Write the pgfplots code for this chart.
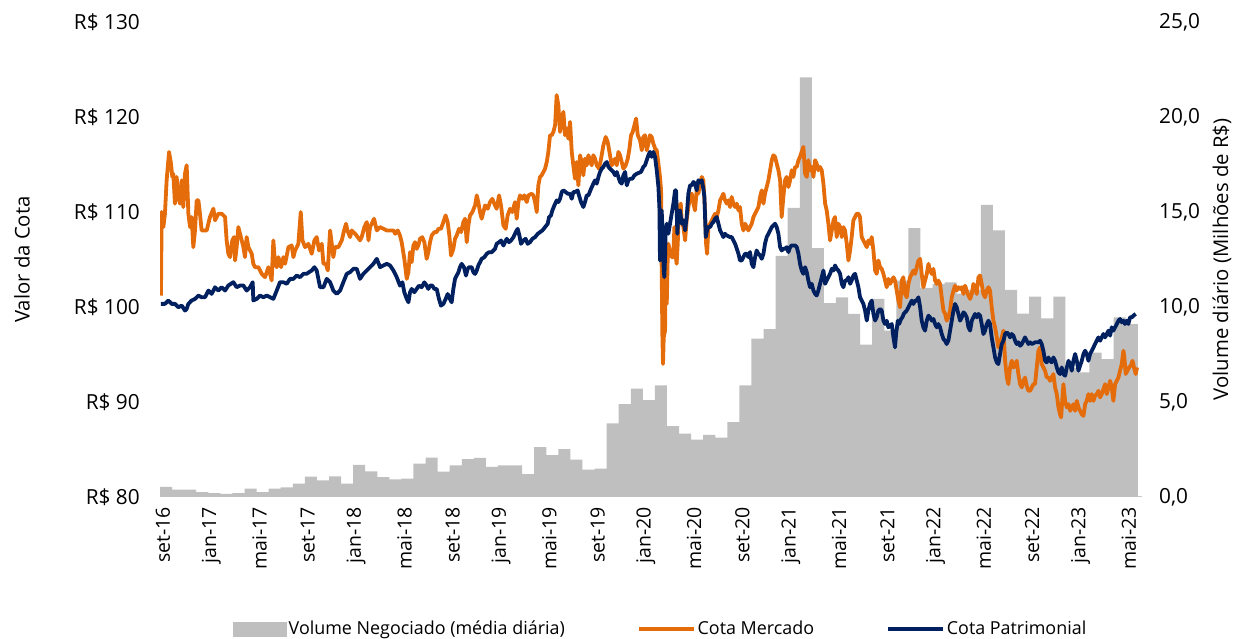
\documentclass[border=0pt]{standalone}
\usepackage{pgfplots}
\pgfplotsset{compat=1.18}
\usepackage{fontspec}
\setmainfont{Open Sans}
\definecolor{cmerc}{HTML}{E46C0A}
\definecolor{cpat}{HTML}{002060}
\definecolor{cvol}{HTML}{BFBFBF}
\newcommand{\lblfont}{\fontsize{20.8}{23}\selectfont}
\newcommand{\ylblfont}{\fontsize{20.3}{23}\selectfont}
\newcommand{\xfont}{\fontsize{19.5}{22}\selectfont}
\newcommand{\legfont}{\fontsize{17.9}{20}\selectfont}

\pgfplotstableread{
m vol
0 0.53
1 0.39
2 0.39
3 0.26
4 0.21
5 0.17
6 0.21
7 0.44
8 0.26
9 0.44
10 0.51
11 0.70
12 1.07
13 0.88
14 1.09
15 0.70
16 1.69
17 1.35
18 1.04
19 0.93
20 0.97
21 1.76
22 2.07
23 1.33
24 1.67
25 1.99
26 2.06
27 1.58
28 1.67
29 1.67
30 1.21
31 2.62
32 2.20
33 2.52
34 1.97
35 1.44
36 1.49
37 3.87
38 4.89
39 5.70
40 5.10
41 5.87
42 3.73
43 3.34
44 3.02
45 3.27
46 3.13
47 3.94
48 5.87
49 8.33
50 8.83
51 12.69
52 15.22
53 22.08
54 13.10
55 10.20
56 10.51
57 9.64
58 8.02
59 10.43
60 8.76
61 11.39
62 14.15
63 11.00
64 11.20
65 11.30
66 10.70
67 10.90
68 15.38
69 14.03
70 10.90
71 9.65
72 10.55
73 9.40
74 10.55
75 6.80
76 6.56
77 7.60
78 7.26
79 9.46
80 9.10
81 9.10
}\voltable

\pgfplotstableread{
m v
0.08 101.20
0.14 110.00
0.28 108.41
0.41 109.82
0.55 113.34
0.75 116.32
0.91 115.09
1.02 113.69
1.10 114.04
1.24 110.87
1.38 113.69
1.52 111.58
1.66 110.87
1.80 113.34
1.93 110.52
2.07 114.04
2.21 114.92
2.35 109.82
2.49 108.41
2.62 109.47
2.76 106.30
2.90 108.06
3.04 111.23
3.18 111.23
3.31 109.82
3.45 108.06
3.73 108.06
3.87 108.06
4.14 109.47
4.42 110.35
4.56 109.12
4.83 109.82
5.11 109.82
5.39 109.47
5.52 107.01
5.66 105.60
5.80 105.25
5.99 107.01
6.13 107.36
6.22 104.90
6.35 106.30
6.49 108.41
6.63 107.71
6.77 107.01
6.91 106.30
7.04 105.25
7.18 107.36
7.32 106.30
7.60 105.60
7.73 104.55
7.87 104.19
8.15 104.19
8.43 103.49
8.70 103.14
8.98 104.19
9.12 103.49
9.25 102.79
9.39 107.01
9.53 104.55
9.67 104.19
9.81 105.25
10.03 104.19
10.22 105.25
10.36 104.55
10.64 106.30
10.91 106.48
11.05 105.25
11.19 105.95
11.46 106.65
11.66 110.00
11.80 107.01
12.02 106.30
12.29 106.65
12.57 105.60
12.79 107.01
12.98 107.36
13.18 105.95
13.40 106.65
13.54 104.55
13.73 104.55
13.90 103.84
14.09 108.06
14.23 106.65
14.36 105.25
14.50 106.30
14.78 106.30
15.06 107.01
15.25 108.06
15.41 108.76
15.52 108.06
15.75 107.36
15.88 108.06
16.16 107.71
16.38 107.36
16.57 107.01
16.71 107.36
16.93 108.41
17.13 108.94
17.27 107.01
17.40 108.41
17.54 108.76
17.73 109.29
17.96 108.06
18.23 108.41
18.51 108.24
18.78 108.06
19.06 108.06
19.34 108.06
19.48 107.71
19.70 108.06
19.88 107.53
20.02 106.82
20.24 105.07
20.44 102.96
20.58 103.66
20.71 105.77
20.85 104.71
20.99 106.47
21.13 106.82
21.26 106.12
21.40 106.47
21.54 107.18
21.73 107.35
21.90 106.82
22.09 105.07
22.23 105.77
22.37 106.82
22.51 107.53
22.73 107.88
22.92 107.88
23.06 108.23
23.28 108.23
23.47 108.93
23.66 109.64
23.83 108.93
23.97 107.53
24.11 105.42
24.30 106.12
24.44 107.18
24.58 107.53
24.77 108.23
24.94 107.88
25.13 108.93
25.27 109.29
25.41 106.82
25.55 108.58
25.68 109.64
25.88 109.99
26.10 110.69
26.24 111.75
26.37 111.04
26.51 109.99
26.65 109.29
26.79 109.99
26.93 110.69
27.15 110.34
27.34 111.04
27.53 111.39
27.75 110.69
27.89 110.34
28.09 111.75
28.25 110.69
28.45 108.58
28.64 108.23
28.80 109.64
29.00 110.34
29.19 109.99
29.41 111.04
29.55 109.29
29.69 111.04
29.82 111.75
30.02 111.39
30.18 111.75
30.38 111.04
30.52 111.75
30.79 111.92
30.93 111.75
31.07 111.04
31.21 109.99
31.34 112.80
31.48 113.68
31.62 113.86
31.76 114.21
31.90 114.56
32.04 115.26
32.17 116.32
32.31 118.08
32.45 118.08
32.59 118.43
32.73 119.13
32.86 122.30
33.00 121.24
33.14 118.43
33.28 119.83
33.42 120.54
33.55 118.08
33.69 118.78
33.83 117.72
33.97 119.48
34.11 116.32
34.24 114.91
34.38 113.50
34.52 115.26
34.66 112.80
34.80 115.97
34.93 115.26
35.07 113.86
35.21 115.61
35.35 114.91
35.49 115.97
35.76 114.91
35.90 115.97
36.04 115.61
36.18 114.91
36.37 114.56
36.54 115.61
36.73 117.02
36.92 117.90
37.09 117.37
37.28 115.97
37.42 114.91
37.56 115.26
37.70 115.61
37.84 114.91
37.97 116.32
38.11 115.97
38.25 115.26
38.39 114.56
38.58 114.91
38.75 115.61
38.89 116.67
39.02 118.08
39.16 118.43
39.30 119.13
39.44 119.83
39.58 118.08
39.77 117.56
39.91 116.50
40.04 117.91
40.18 118.08
40.32 116.50
40.46 117.20
40.59 118.08
40.73 117.91
40.87 117.20
41.01 116.68
41.15 116.50
41.29 115.09
41.42 113.69
41.51 112.28
41.56 103.84
41.62 96.81
41.67 94.00
41.73 96.81
41.84 97.51
41.89 103.84
41.98 100.33
42.06 105.25
42.11 106.66
42.25 105.95
42.39 105.25
42.53 105.25
42.61 108.41
42.67 105.95
42.80 104.55
42.89 106.66
43.00 110.52
43.14 110.88
43.22 109.12
43.36 108.41
43.50 107.01
43.63 109.12
43.77 110.52
43.91 111.58
44.05 111.93
44.19 110.88
44.32 110.17
44.46 112.28
44.60 111.93
44.74 112.98
44.88 113.69
45.01 113.34
45.15 110.17
45.24 106.66
45.32 105.60
45.43 108.41
45.57 108.77
45.71 109.12
45.84 109.47
45.98 109.82
46.12 109.47
46.26 110.17
46.40 111.23
46.54 111.58
46.67 111.93
46.81 111.23
46.95 110.88
47.09 111.23
47.22 110.52
47.36 111.58
47.50 110.88
47.64 110.52
47.78 110.88
47.92 110.17
48.05 110.52
48.19 108.77
48.33 108.06
48.47 108.77
48.61 108.41
48.74 108.06
48.88 108.41
49.02 108.77
49.16 109.47
49.30 109.82
49.43 110.17
49.57 110.52
49.71 111.58
49.85 112.28
49.99 110.88
50.12 111.93
50.26 112.63
50.40 113.34
50.54 114.39
50.68 115.45
50.81 115.97
50.95 115.80
51.09 115.09
51.23 114.39
51.37 113.34
51.50 109.47
51.64 111.58
51.78 113.34
51.92 113.69
52.06 112.63
52.20 113.34
52.33 114.39
52.47 113.69
52.61 114.74
52.75 114.74
52.89 115.45
53.02 115.80
53.16 116.33
53.30 116.85
53.44 114.04
53.58 113.69
53.71 115.45
53.85 114.39
53.99 114.74
54.13 113.69
54.27 115.45
54.40 115.09
54.54 114.39
54.68 114.74
54.82 114.39
54.96 112.98
55.10 110.88
55.23 110.17
55.37 108.77
55.51 107.01
55.65 108.06
55.79 109.12
55.92 109.47
56.06 107.36
56.20 108.77
56.34 108.41
56.48 107.36
56.61 108.41
56.75 108.06
56.89 106.66
57.03 104.90
57.17 105.95
57.30 107.36
57.44 109.12
57.58 109.47
57.72 109.82
57.86 109.82
57.99 109.47
58.13 107.36
58.27 107.01
58.41 106.66
58.55 106.30
58.68 107.01
58.82 106.66
58.96 107.36
59.10 105.95
59.24 103.84
59.37 103.49
59.51 104.90
59.65 104.19
59.79 104.01
59.93 103.48
60.07 102.78
60.20 102.08
60.34 102.96
60.48 102.43
60.62 102.78
60.76 103.13
60.89 102.78
61.03 101.73
61.17 100.67
61.31 99.97
61.45 102.78
61.58 103.13
61.72 101.37
61.86 101.02
62.00 102.43
62.14 103.13
62.28 103.48
62.41 103.84
62.55 103.48
62.69 104.19
62.83 104.89
62.97 105.07
63.10 103.48
63.24 102.08
63.38 102.78
63.52 103.48
63.66 104.54
63.79 103.84
63.93 103.48
64.07 104.01
64.21 102.78
64.35 102.43
64.48 102.78
64.62 102.43
64.76 101.02
64.90 99.62
65.04 99.27
65.17 98.56
65.31 98.91
65.45 99.62
65.59 101.02
65.73 101.73
65.86 102.25
66.00 101.73
66.14 102.08
66.28 101.90
66.42 102.08
66.56 101.37
66.69 102.25
66.83 101.73
66.97 101.20
67.11 100.85
67.25 101.37
67.38 102.43
67.52 102.08
67.66 101.37
67.80 103.13
67.94 103.31
68.07 102.43
68.21 101.37
68.35 101.02
68.49 101.73
68.63 102.08
68.76 101.73
68.90 99.97
69.04 98.56
69.18 97.86
69.32 96.80
69.45 95.75
69.59 96.10
69.73 96.80
69.87 97.51
70.01 94.34
70.15 92.58
70.28 91.88
70.42 93.64
70.56 94.34
70.70 93.64
70.84 93.82
70.97 94.34
71.11 92.94
71.25 91.88
71.39 91.53
71.53 92.23
71.66 92.58
71.80 91.71
71.94 91.18
72.08 91.18
72.22 91.53
72.35 91.88
72.49 91.88
72.63 93.64
72.77 95.40
72.91 95.75
73.04 93.99
73.18 93.64
73.32 93.29
73.46 92.58
73.60 92.58
73.73 92.23
73.87 92.58
74.01 92.94
74.15 91.53
74.29 90.83
74.43 89.42
74.56 88.72
74.65 88.37
74.76 90.48
74.84 91.88
74.98 90.12
75.12 89.42
75.26 89.77
75.40 89.07
75.53 89.42
75.67 89.77
75.81 89.07
75.95 90.12
76.09 89.42
76.22 89.07
76.36 88.72
76.50 88.54
76.64 89.77
76.77 90.12
76.91 90.83
77.05 90.12
77.19 90.83
77.33 90.12
77.46 90.65
77.60 90.83
77.74 91.18
77.88 90.48
78.02 90.83
78.15 91.35
78.29 91.88
78.43 90.83
78.57 91.53
78.71 92.23
78.84 91.53
78.98 90.12
79.12 91.88
79.26 92.23
79.40 92.58
79.53 93.29
79.67 93.99
79.81 95.40
79.89 94.69
80.00 92.94
80.14 93.29
80.28 93.64
80.42 93.82
80.56 94.34
80.69 93.64
80.83 92.94
80.94 93.64
}\merctable

\pgfplotstableread{
m v
0.08 100.33
0.41 100.33
0.69 100.68
0.97 100.33
1.24 100.33
1.52 99.97
1.80 100.15
2.07 99.62
2.21 99.80
2.35 100.33
2.62 100.68
2.90 100.85
3.18 101.20
3.45 101.03
3.73 101.03
4.01 101.73
4.28 101.38
4.56 102.08
4.83 101.73
5.11 102.08
5.39 101.73
5.66 102.26
6.08 102.61
6.35 102.08
6.63 102.26
6.91 102.26
7.18 101.73
7.46 102.08
7.68 102.61
7.73 100.68
8.01 100.85
8.29 101.20
8.56 101.03
8.84 101.20
9.12 101.03
9.39 100.85
9.67 101.73
9.94 102.61
10.22 102.61
10.50 102.44
10.77 102.96
11.05 102.96
11.33 103.31
11.60 103.14
11.88 103.49
12.15 103.49
12.35 103.67
12.57 103.84
12.79 104.19
12.98 103.84
13.26 102.08
13.54 102.08
13.81 102.96
14.09 102.61
14.36 101.73
14.64 101.38
14.92 101.73
15.19 102.61
15.47 103.49
15.75 103.67
16.02 104.02
16.30 104.02
16.57 102.96
16.85 103.49
17.13 103.84
17.40 104.19
17.68 104.55
17.96 105.07
18.23 104.19
18.51 104.37
18.78 104.55
19.06 104.37
19.34 103.84
19.61 103.14
19.88 102.25
20.08 102.60
20.24 101.55
20.44 100.85
20.58 100.49
20.71 101.55
20.85 101.90
21.07 101.55
21.26 101.90
21.46 102.25
21.68 102.08
21.90 102.60
22.09 102.25
22.23 101.90
22.37 102.25
22.56 102.25
22.73 101.90
22.92 101.90
23.11 100.85
23.28 100.14
23.47 100.32
23.67 100.85
23.83 101.37
24.02 100.85
24.16 100.49
24.30 101.90
24.44 102.96
24.58 103.31
24.72 103.66
24.85 104.19
24.99 104.54
25.18 104.19
25.35 103.31
25.49 104.01
25.60 104.19
25.82 104.19
25.96 103.66
26.10 103.48
26.24 103.84
26.37 104.36
26.51 104.71
26.65 105.07
26.87 105.24
27.06 105.59
27.26 105.77
27.48 105.77
27.75 106.12
27.89 106.65
28.09 106.82
28.25 107.00
28.45 106.47
28.58 106.82
28.72 107.18
28.91 106.82
29.08 107.00
29.28 107.35
29.47 107.88
29.63 108.23
29.77 107.53
29.91 106.65
30.10 107.00
30.29 107.18
30.46 106.65
30.65 106.82
30.85 107.18
31.07 107.35
31.29 107.70
31.48 107.88
31.68 108.06
31.90 108.41
32.12 108.76
32.23 109.46
32.39 109.64
32.50 110.16
32.67 110.69
32.86 111.22
33.00 111.04
33.14 111.39
33.28 112.10
33.42 112.27
33.61 112.10
33.78 111.92
33.97 111.92
34.11 111.39
34.24 112.10
34.38 112.10
34.60 112.27
34.71 111.75
34.88 111.04
35.07 110.52
35.21 111.04
35.35 111.75
35.49 111.75
35.71 112.45
35.90 112.98
36.04 113.33
36.18 112.98
36.32 113.68
36.45 114.21
36.59 114.56
36.73 114.74
36.87 115.09
37.01 115.26
37.15 114.74
37.28 114.56
37.42 114.38
37.56 114.21
37.70 113.86
37.84 114.21
37.97 113.68
38.11 113.15
38.25 112.98
38.39 113.86
38.53 114.21
38.67 112.80
38.80 113.33
38.94 113.50
39.13 113.50
39.30 113.86
39.50 114.03
39.85 114.22
40.04 114.74
40.18 114.92
40.32 115.45
40.46 115.97
40.59 116.33
40.73 115.80
40.87 116.33
41.01 115.80
41.15 114.39
41.29 112.63
41.37 110.52
41.42 104.90
41.51 105.25
41.56 110.17
41.65 107.36
41.73 103.84
41.78 103.14
41.84 105.25
41.89 108.06
41.98 108.77
42.11 107.71
42.25 108.77
42.39 109.82
42.53 110.88
42.67 112.28
42.75 112.28
42.86 107.71
42.94 109.82
43.08 110.17
43.22 108.77
43.36 109.12
43.50 108.06
43.63 109.47
43.77 111.93
43.91 112.81
44.05 112.81
44.19 113.16
44.32 112.98
44.46 112.28
44.60 113.34
44.74 113.16
44.88 113.34
45.01 112.46
45.10 111.58
45.21 107.36
45.32 108.06
45.43 108.41
45.57 108.41
45.71 108.77
45.84 108.94
45.98 109.29
46.12 109.47
46.26 108.77
46.40 108.06
46.54 107.71
46.67 107.36
46.81 107.71
46.95 107.53
47.22 107.36
47.36 107.36
47.50 107.01
47.64 106.66
47.78 106.13
47.92 105.60
48.05 104.90
48.19 104.90
48.33 105.25
48.47 105.60
48.61 105.60
48.74 105.25
48.88 105.78
49.02 104.55
49.16 104.19
49.30 105.25
49.43 105.95
49.57 105.60
49.71 105.43
49.85 105.07
49.99 105.60
50.12 106.66
50.26 107.36
50.40 107.71
50.54 108.06
50.68 108.41
50.81 108.59
50.95 108.77
51.09 108.41
51.23 107.71
51.37 106.30
51.50 105.95
51.64 106.13
51.78 106.13
51.92 106.30
52.06 105.78
52.20 106.30
52.33 106.48
52.61 106.48
52.75 106.30
52.89 105.60
53.02 104.55
53.16 103.84
53.30 103.49
53.44 104.19
53.58 103.67
53.71 102.79
53.85 102.08
53.99 102.44
54.13 101.73
54.27 101.38
54.40 101.21
54.54 101.73
54.68 102.44
54.82 103.14
54.96 103.84
55.10 102.44
55.23 102.79
55.37 103.14
55.51 103.49
55.65 104.02
55.79 103.84
55.92 104.37
56.06 104.02
56.20 103.84
56.34 103.49
56.48 102.44
56.61 102.08
56.75 102.79
56.89 102.79
57.03 103.14
57.17 102.44
57.30 102.79
57.44 103.31
57.58 103.49
57.72 102.79
57.86 102.08
57.99 101.03
58.13 100.68
58.27 100.33
58.41 99.62
58.55 98.57
58.68 99.62
58.82 100.33
58.96 100.68
59.10 99.27
59.24 98.57
59.37 98.92
59.51 99.62
59.65 99.79
59.79 99.62
59.93 98.56
60.07 98.21
60.20 98.56
60.34 97.86
60.48 98.03
60.62 98.21
60.76 96.80
60.89 95.75
60.98 97.16
61.12 98.56
61.23 98.21
61.39 98.74
61.50 98.91
61.61 99.27
61.72 99.44
61.86 99.62
62.00 99.97
62.14 100.32
62.28 100.67
62.41 100.32
62.55 100.67
62.69 100.67
62.83 101.02
62.97 99.97
63.10 98.56
63.24 97.86
63.38 97.51
63.52 98.56
63.66 99.09
63.79 98.91
63.93 98.56
64.07 98.74
64.21 98.21
64.35 97.86
64.48 98.21
64.62 97.86
64.76 97.16
64.90 96.63
65.04 96.45
65.17 96.10
65.31 96.45
65.45 97.51
65.59 98.56
65.73 99.62
65.86 100.32
66.00 99.97
66.14 99.27
66.28 98.56
66.42 98.91
66.56 99.44
66.69 99.27
66.83 98.91
66.97 97.86
67.11 97.51
67.25 98.56
67.38 98.91
67.52 99.27
67.66 98.91
67.80 99.27
67.94 99.09
68.07 98.21
68.21 97.16
68.35 97.51
68.49 98.21
68.63 98.56
68.76 98.21
68.90 96.80
69.04 95.75
69.18 94.69
69.32 94.17
69.45 93.99
69.59 95.05
69.73 96.10
69.87 96.45
70.01 97.16
70.15 97.33
70.28 97.16
70.42 96.80
70.56 97.16
70.70 96.98
70.84 96.45
70.97 96.10
71.11 96.28
71.25 95.92
71.39 96.10
71.53 96.45
71.66 96.80
71.80 96.45
71.94 96.10
72.08 96.28
72.22 96.10
72.49 96.28
72.77 96.28
72.91 96.45
73.04 96.10
73.18 95.40
73.32 94.34
73.46 94.17
73.60 94.69
73.73 94.34
73.87 94.17
74.01 94.69
74.15 94.34
74.29 93.64
74.43 93.11
74.56 92.94
74.70 93.64
74.84 92.94
74.98 92.76
75.12 93.64
75.26 94.34
75.40 93.99
75.53 93.29
75.67 94.34
75.81 95.05
75.95 94.34
76.09 93.29
76.22 93.82
76.36 94.34
76.50 95.05
76.64 95.40
76.77 95.05
76.91 94.34
77.05 95.05
77.19 95.40
77.33 95.75
77.46 96.10
77.60 96.45
77.74 96.80
77.88 96.45
78.02 96.80
78.15 97.16
78.29 96.80
78.43 97.16
78.57 97.51
78.71 96.98
78.84 97.86
78.98 97.51
79.12 97.86
79.26 98.21
79.40 98.56
79.53 98.74
79.67 98.39
79.81 98.56
79.94 98.21
80.08 98.56
80.22 98.21
80.36 98.91
80.50 98.91
80.64 99.09
80.83 99.27
}\pattable

\begin{document}
\begin{tikzpicture}
\useasboundingbox (0,0) rectangle (1235pt,639pt);
\begin{axis}[
  at={(160pt,142pt)}, anchor=south west,
  scale only axis, width=982pt, height=475pt,
  xmin=0, xmax=81.35, ymin=0, ymax=25,
  axis x line*=bottom, axis y line*=right,
  x axis line style={draw=black!22, line width=1pt, -},
  y axis line style={draw=none},
  major tick length=0pt,
  xtick={0.25,4.25,...,80.25},
  xticklabels={set-16,jan-17,mai-17,set-17,jan-18,mai-18,set-18,jan-19,mai-19,set-19,jan-20,mai-20,set-20,jan-21,mai-21,set-21,jan-22,mai-22,set-22,jan-23,mai-23},
  xticklabel style={font=\xfont, rotate=90, anchor=east, inner xsep=10pt, inner ysep=0pt},
  ytick={0,5,10,15,20,25},
  yticklabels={{0,0},{5,0},{10,0},{15,0},{20,0},{25,0}},
  yticklabel style={font=\lblfont, anchor=west, inner sep=0pt, xshift=17pt},
  ylabel={Volume diário (Milhões de R\$)},
  every axis y label/.style={at={(axis description cs:1.0815,0.5)}, rotate=90, anchor=center, font=\ylblfont},
]
\addplot[const plot, fill=cvol, draw=none] table[x=m, y=vol] {\voltable} \closedcycle;
\end{axis}
\begin{axis}[
  at={(160pt,142pt)}, anchor=south west,
  scale only axis, width=982pt, height=475pt,
  xmin=0, xmax=81.35, ymin=80, ymax=130,
  axis x line=none, axis y line*=left,
  y axis line style={draw=none},
  major tick length=0pt,
  ytick={80,90,...,130},
  yticklabels={R\$ 80,R\$ 90,R\$ 100,R\$ 110,R\$ 120,R\$ 130},
  yticklabel style={font=\lblfont, anchor=east, inner sep=0pt, xshift=-20pt},
  ylabel={Valor da Cota},
  every axis y label/.style={at={(axis description cs:-0.1405,0.5)}, rotate=90, anchor=center, font=\ylblfont},
  legend style={at={(axis description cs:0.5100,-0.2775)}, anchor=center, draw=none, fill=none,
    font=\legfont, column sep=0pt, /tikz/every even column/.append style={column sep=70pt}},
  legend columns=-1,
]
\addlegendimage{legend image code/.code={\fill[cvol] (0pt,-7pt) rectangle (53pt,7pt);}}
\addlegendentry{Volume Negociado (média diária)}
\addplot[cmerc, line width=3.8pt, line join=round,
  legend image code/.code={\draw[cmerc, line width=3.8pt] (0pt,0pt) -- (55pt,0pt);}]
  table[x=m, y=v] {\merctable};
\addlegendentry{Cota Mercado}
\addplot[cpat, line width=3.8pt, line join=round,
  legend image code/.code={\draw[cpat, line width=3.8pt] (0pt,0pt) -- (55pt,0pt);}]
  table[x=m, y=v] {\pattable};
\addlegendentry{Cota Patrimonial}
\end{axis}
\end{tikzpicture}
\end{document}
